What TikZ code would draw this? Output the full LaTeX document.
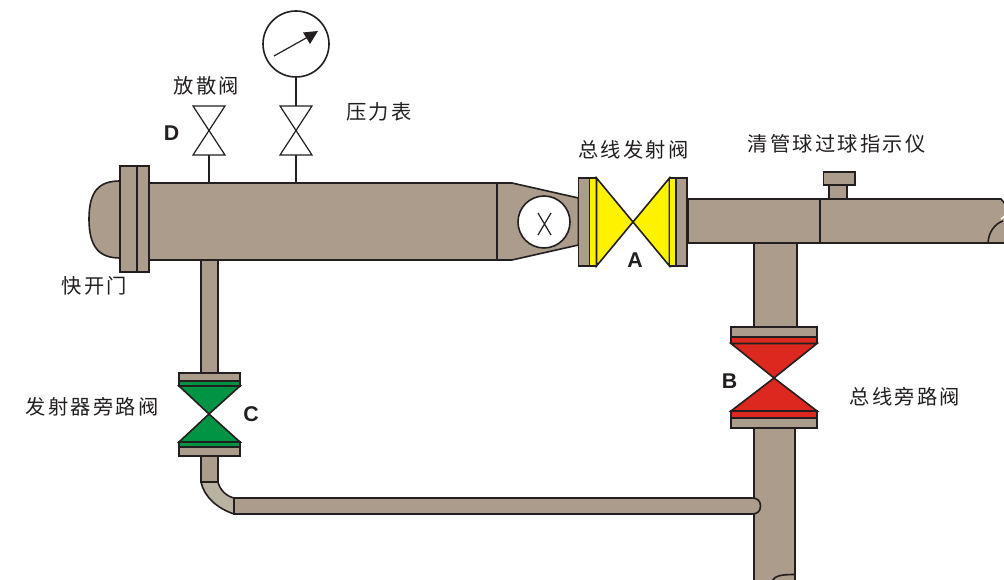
\documentclass[tikz,border=0pt]{standalone}
\usepackage{fontspec}
\newfontfamily\cjk[LetterSpace=11]{Noto Sans CJK SC}
\setmainfont{Liberation Sans}
\definecolor{pipe}{HTML}{AC9C8B}
\definecolor{elbow}{HTML}{BAB2A0}
\definecolor{ln}{HTML}{231F20}
\definecolor{vyellow}{HTML}{FFF200}
\definecolor{vgreen}{HTML}{009444}
\definecolor{vred}{HTML}{DC281E}
\tikzset{
  pipeshape/.style={draw=ln,fill=pipe,line width=1.2pt,line join=miter},
  edgeline/.style={draw=ln,line width=1.2pt},
  thinline/.style={draw=ln,line width=0.9pt},
  label/.style={font=\cjk\fontsize{15.2pt}{15.2pt}\selectfont,text=ln,inner sep=0pt},
  letter/.style={font=\bfseries\fontsize{16pt}{16pt}\selectfont,text=ln,inner sep=0pt}
}
\begin{document}
\begin{tikzpicture}[x=0.75pt,y=-0.75pt]
\useasboundingbox (0,0) rectangle (1004,580);
% lower main pipe and bypass
\path[pipeshape] (754,428) -- (754,581) -- (795,581) -- (795,428) -- cycle;
\path[pipeshape] (234,498) -- (752,498) .. controls (757.5,498) and (760.5,501) .. (760.5,506) .. controls (760.5,511) and (757.5,514) .. (752,514) -- (234,514) -- cycle;
\path[edgeline] (772,581) .. controls (775,576) and (780,574.5) .. (795,574.5);
% C branch
\path[pipeshape] (201,260) rectangle (218,373);
\path[pipeshape] (201,456) rectangle (218,482);
\path[pipeshape,fill=elbow] (201,482) -- (218,482) .. controls (220,490) and (226,496) .. (234,498) -- (234,514) .. controls (216,508) and (204,496) .. (201,482) -- cycle;
% B branch
\path[pipeshape] (754,243) rectangle (797,327);
% upper right pipe
\path[pipeshape] (688,199) -- (1001,199) -- (1006,205) -- (1006,243) -- (688,243) -- cycle;
\path[edgeline] (820,199) -- (820,243);
\path[edgeline] (988,243) .. controls (988.5,233) and (994,224) .. (1003,221);
\path[draw=white,line width=1.2pt] (1001,219) -- (1005,216);
\path[pipeshape] (829,185) rectangle (847,199);
\path[pipeshape] (823.5,172) rectangle (855,185);
% vessel
\path[pipeshape] (149,183) rectangle (497,260);
\path[pipeshape] (120,181) .. controls (100,181) and (89,190) .. (89,219) .. controls (89,248) and (100,258) .. (120,258) -- cycle;
\path[pipeshape] (120,166) rectangle (137,272);
\path[pipeshape] (137,166) rectangle (149,272);
\path[pipeshape] (497,183) -- (512,183) -- (578.5,198) -- (578.5,245) -- (512,260) -- (497,260) -- cycle;
\node[circle,draw=ln,fill=white,line width=1.2pt,minimum size=39pt,inner sep=0pt] (sight) at (544,222) {};
\path[thinline] (538,213) -- (551,235) (551,213) -- (538,235);
% valve A
\path[pipeshape] (578.5,178) rectangle (589.5,266);
\path[pipeshape,fill=vyellow] (589.5,178) rectangle (596.5,266);
\path[pipeshape,fill=vyellow] (596.5,178) -- (633,222) -- (596.5,266) -- cycle;
\path[pipeshape,fill=vyellow] (669.5,178) -- (633,222) -- (669.5,266) -- cycle;
\path[pipeshape,fill=vyellow] (669.5,178) rectangle (676,266);
\path[pipeshape] (676,178) rectangle (687,266);
% valve B
\path[pipeshape] (731,327) rectangle (817,337);
\path[pipeshape,fill=vred] (731,337) rectangle (817,343.5);
\path[pipeshape,fill=vred] (731,343.5) -- (817,343.5) -- (774,378) -- cycle;
\path[pipeshape,fill=vred] (731,411) -- (817,411) -- (774,378) -- cycle;
\path[pipeshape,fill=vred] (731,411) rectangle (817,418);
\path[pipeshape] (731,418) rectangle (817,428);
% valve C
\path[pipeshape] (179,373) rectangle (240,381);
\path[pipeshape,fill=vgreen] (179,381) rectangle (240,386);
\path[pipeshape,fill=vgreen] (179,386) -- (240,386) -- (209,414) -- cycle;
\path[pipeshape,fill=vgreen] (179,442) -- (240,442) -- (209,414) -- cycle;
\path[pipeshape,fill=vgreen] (179,442) rectangle (240,447);
\path[pipeshape] (179,447) rectangle (240,456);
% instrument valves
\coordinate (dtop) at (209,183);
\coordinate (ptop) at (296,183);
\coordinate (dv) at (209,155);
\coordinate (pv) at (296,155);
\node[circle,draw=ln,fill=white,line width=1.2pt,minimum size=49.5pt,inner sep=0pt] (gauge) at (296,44) {};
\coordinate (pvt) at (296,106);
\path[edgeline] (dtop) -- (dv);
\path[edgeline] (ptop) -- (pv);
\path[edgeline] (gauge) ++(0,33) -- (pvt);
\path[thinline,line join=miter] (193,106) -- (225,106) -- (193,155) -- (225,155) -- cycle;
\path[thinline,line join=miter] (280,106) -- (312,106) -- (280,155) -- (312,155) -- cycle;
\path[draw=ln,line width=0.9pt] (274,56) -- (308,37);
\path[fill=ln] (318,31) -- (303,32.5) -- (310,44) -- cycle;
% labels
\node[label] (t1) at (206.5,86) {放散阀};
\node[letter] (t2) at (171.5,133) {D};
\node[label] (t3) at (379,111.5) {压力表};
\node[label] (t4) at (633.5,149.5) {总线发射阀};
\node[label] (t5) at (836.5,143.5) {清管球过球指示仪};
\node[label] (t6) at (94.5,286) {快开门};
\node[label] (t7) at (92,407) {发射器旁路阀};
\node[label] (t8) at (905,396.5) {总线旁路阀};
\node[letter] (t9) at (635,260) {A};
\node[letter] (t10) at (729.5,381) {B};
\node[letter] (t11) at (251,414) {C};
\end{tikzpicture}
\end{document}
